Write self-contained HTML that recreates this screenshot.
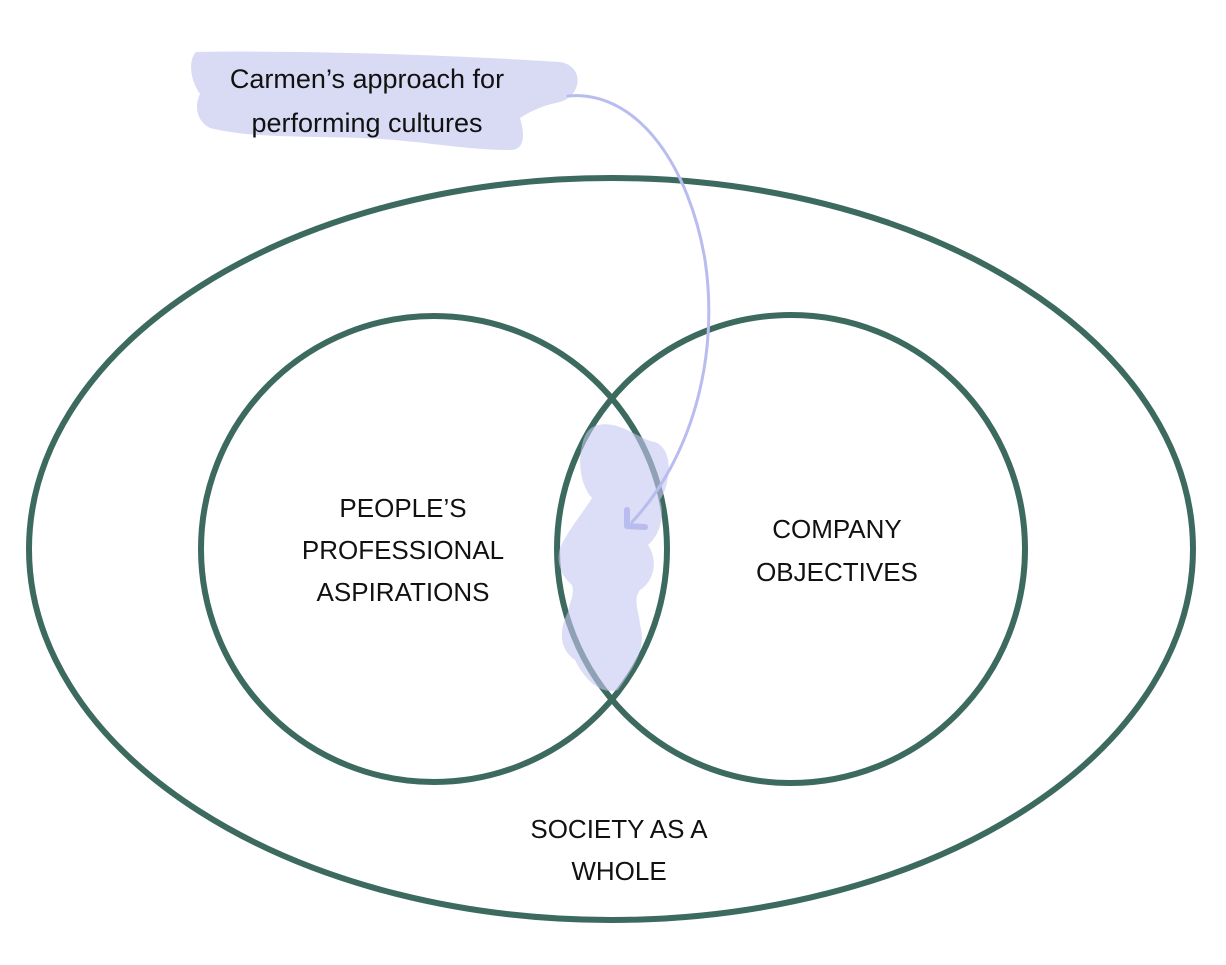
<!DOCTYPE html>
<html><head><style>body{margin:0;background:#fff}svg text{font-family:"Liberation Sans",sans-serif;fill:#111}</style></head><body>
<svg width="1226" height="960" viewBox="0 0 1226 960" xmlns="http://www.w3.org/2000/svg">
<path d="M196,52 C300,50 450,55 560,62 C585,66 582,96 560,102 C540,106 530,112 520,118 C525,135 525,150 510,150 C460,150 420,140 360,138 C300,136 250,138 210,128 C195,120 195,104 200,94 C190,80 188,60 196,52 Z" fill="#d9dbf4"/>
<text x="367" y="88" font-size="27" text-anchor="middle">Carmen’s approach for</text>
<text x="367" y="132" font-size="27" text-anchor="middle">performing cultures</text>
<g fill="none" stroke="#3d6a5e" stroke-width="6">
<ellipse cx="611" cy="549" rx="582" ry="371"/>
<circle cx="434" cy="549" r="233"/>
<circle cx="791" cy="549" r="234"/>
</g>
<path d="M598,425 C620,420 640,440 655,442 C675,450 670,485 660,500 C665,515 660,535 648,545 C658,560 655,580 640,590 C632,600 640,615 640,625 C648,650 630,672 618,690 C600,695 585,680 575,660 C560,650 558,632 568,612 C570,600 575,595 572,585 C560,575 556,560 560,548 C568,530 585,510 592,498 C580,485 578,460 582,445 C585,432 590,427 598,425 Z" fill="#c4c7f0" fill-opacity="0.6"/>
<path d="M568,96 C640,90 690,170 705,260 C720,360 690,460 632,522" fill="none" stroke="#b8bcee" stroke-width="3" stroke-linecap="round"/>
<path d="M627,510 L627,526 L645,527" fill="none" stroke="#b8bcee" stroke-width="6" stroke-linecap="round" stroke-linejoin="round"/>
<g font-size="26" text-anchor="middle">
<text x="403" y="517">PEOPLE’S</text>
<text x="403" y="559">PROFESSIONAL</text>
<text x="403" y="601">ASPIRATIONS</text>
<text x="837" y="538">COMPANY</text>
<text x="837" y="581">OBJECTIVES</text>
<text x="619" y="838">SOCIETY AS A</text>
<text x="619" y="880">WHOLE</text>
</g>
</svg>
</body></html>
